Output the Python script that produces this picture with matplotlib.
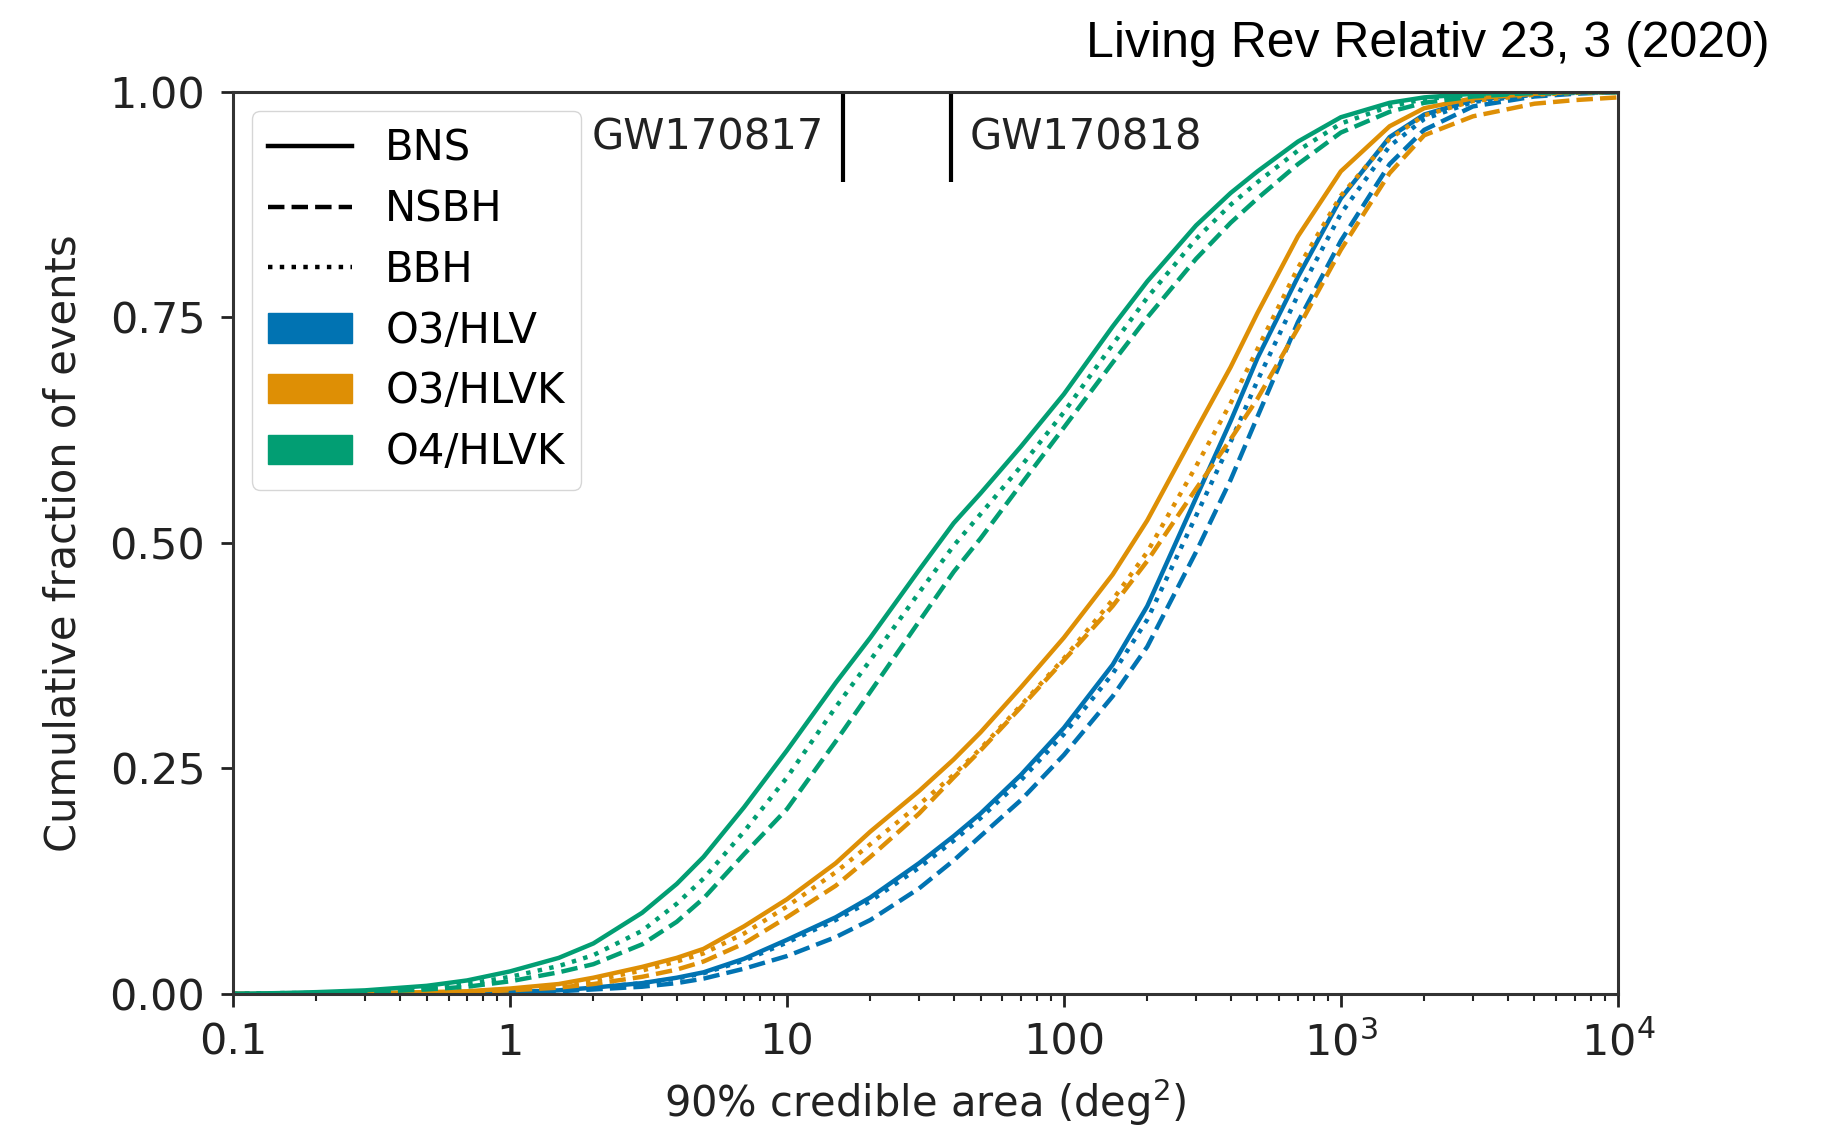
import matplotlib.pyplot as plt
from matplotlib.lines import Line2D
from matplotlib.patches import Patch

# 90% credible area grid (deg^2)
area = [0.1, 0.15, 0.2, 0.3, 0.5, 0.7, 1, 1.5, 2, 3, 4, 5, 7, 10, 15, 20, 30, 40, 50, 70,
        100, 150, 200, 300, 400, 500, 700, 1000, 1500, 2000, 3000, 5000, 7000, 10000]

# cumulative fraction of events
o3_hlv_bns = [0, 0, 0, 0, 0.001, 0.001, 0.002, 0.004, 0.007, 0.012, 0.018, 0.024, 0.039, 0.06, 0.085, 0.107, 0.145, 0.175, 0.2, 0.243,
              0.295, 0.365, 0.43, 0.55, 0.635, 0.705, 0.795, 0.882, 0.95, 0.975, 0.991, 0.998, 1.0, 1.0]
o3_hlv_nsbh = [0, 0, 0, 0, 0, 0.001, 0.001, 0.003, 0.005, 0.008, 0.012, 0.017, 0.028, 0.042, 0.063, 0.082, 0.117, 0.148, 0.175, 0.215,
               0.265, 0.33, 0.385, 0.49, 0.57, 0.64, 0.745, 0.835, 0.92, 0.958, 0.984, 0.995, 0.998, 1.0]
o3_hlv_bbh = [0, 0, 0, 0, 0.001, 0.001, 0.002, 0.004, 0.007, 0.012, 0.017, 0.023, 0.037, 0.057, 0.082, 0.103, 0.14, 0.17, 0.195, 0.237,
              0.288, 0.355, 0.415, 0.53, 0.612, 0.68, 0.775, 0.865, 0.94, 0.97, 0.989, 0.997, 0.999, 1.0]

o3_hlvk_bns = [0, 0, 0, 0.001, 0.002, 0.003, 0.006, 0.011, 0.018, 0.03, 0.04, 0.05, 0.075, 0.105, 0.145, 0.18, 0.225, 0.26, 0.29, 0.34,
               0.395, 0.465, 0.525, 0.625, 0.695, 0.755, 0.84, 0.912, 0.962, 0.982, 0.993, 0.998, 1.0, 1.0]
o3_hlvk_nsbh = [0, 0, 0, 0, 0.001, 0.002, 0.004, 0.007, 0.011, 0.019, 0.027, 0.036, 0.056, 0.085, 0.12, 0.152, 0.2, 0.24, 0.27, 0.318,
                0.37, 0.43, 0.48, 0.56, 0.615, 0.66, 0.738, 0.825, 0.91, 0.952, 0.973, 0.987, 0.991, 0.994]
o3_hlvk_bbh = [0, 0, 0, 0.001, 0.002, 0.003, 0.005, 0.009, 0.015, 0.026, 0.036, 0.045, 0.067, 0.097, 0.135, 0.166, 0.21, 0.243, 0.272, 0.32,
               0.372, 0.437, 0.49, 0.585, 0.655, 0.715, 0.805, 0.885, 0.948, 0.974, 0.99, 0.997, 0.999, 1.0]

o4_hlvk_bns = [0, 0.001, 0.002, 0.004, 0.009, 0.015, 0.025, 0.04, 0.056, 0.09, 0.122, 0.152, 0.207, 0.27, 0.345, 0.395, 0.47, 0.522, 0.555, 0.607,
               0.665, 0.74, 0.79, 0.852, 0.888, 0.912, 0.945, 0.972, 0.988, 0.994, 0.998, 1.0, 1.0, 1.0]
o4_hlvk_nsbh = [0, 0, 0.001, 0.002, 0.005, 0.008, 0.014, 0.024, 0.033, 0.055, 0.08, 0.106, 0.155, 0.205, 0.28, 0.335, 0.413, 0.468, 0.505, 0.565,
                0.628, 0.70, 0.75, 0.815, 0.855, 0.882, 0.92, 0.955, 0.978, 0.988, 0.995, 0.999, 1.0, 1.0]
o4_hlvk_bbh = [0, 0.001, 0.001, 0.003, 0.007, 0.011, 0.019, 0.031, 0.043, 0.07, 0.1, 0.128, 0.18, 0.24, 0.318, 0.37, 0.445, 0.497, 0.532, 0.585,
               0.645, 0.72, 0.772, 0.837, 0.875, 0.9, 0.935, 0.965, 0.984, 0.992, 0.997, 0.999, 1.0, 1.0]

run_names = ['O3/HLV', 'O3/HLVK', 'O4/HLVK']
run_colors = ['#0173b2', '#de8f05', '#029e73']
pop_names = ['BNS', 'NSBH', 'BBH']
pop_styles = ['-', '--', ':']
curves = [[o3_hlv_bns, o3_hlv_nsbh, o3_hlv_bbh],
          [o3_hlvk_bns, o3_hlvk_nsbh, o3_hlvk_bbh],
          [o4_hlvk_bns, o4_hlvk_nsbh, o4_hlvk_bbh]]

events = ['GW170817', 'GW170818']
event_area = [16, 39]

plt.rcParams['font.family'] = 'DejaVu Sans'
plt.rcParams['font.size'] = 30

fig = plt.figure(figsize=(18.28, 11.3), dpi=100)
ax = fig.add_axes([0.1275, 0.1204, 0.7575, 0.7982])

for run, color in zip(curves, run_colors):
    for y, ls in zip(run, pop_styles):
        ax.plot(area, y, color=color, linestyle=ls, linewidth=3.2)

ax.vlines(event_area, 0.9, 1.0, color='black', linewidth=3)
ax.annotate(events[0], (event_area[0], 0.95), xytext=(-14, 0), textcoords='offset points',
            ha='right', va='center', color='#222222')
ax.annotate(events[1], (event_area[1], 0.95), xytext=(14, 0), textcoords='offset points',
            ha='left', va='center', color='#222222')

ax.set_xscale('log')
ax.set_xlim(0.1, 1e4)
ax.set_ylim(0, 1)
ax.set_xticks([0.1, 1, 10, 100, 1000, 10000])
ax.set_xticklabels(['0.1', '1', '10', '100', '$10^3$', '$10^4$'])
ax.set_yticks([0, 0.25, 0.5, 0.75, 1.0])
ax.set_yticklabels(['0.00', '0.25', '0.50', '0.75', '1.00'])
ax.tick_params(which='major', length=9, width=2, pad=11, colors='#222222', labelsize=31)
ax.tick_params(which='minor', length=5, width=1.5, colors='#222222')
ax.tick_params(axis='y', which='minor', left=False)
for s in ax.spines.values():
    s.set_linewidth(2.2)
    s.set_color('#333333')

ax.set_xlabel('90% credible area (deg$^2$)', color='#222222', labelpad=9)
ax.set_ylabel('Cumulative fraction of events', color='#222222', labelpad=18)

handles = [Line2D([], [], color='black', linestyle=ls, linewidth=3.2) for ls in pop_styles]
handles += [Patch(color=c) for c in run_colors]
ax.legend(handles, pop_names + run_names, loc='upper left', borderaxespad=0.45,
          handlelength=2.0, labelspacing=0.45)

fig.text(0.968, 0.961, 'Living Rev Relativ 23, 3 (2020)', family='Liberation Sans',
         fontsize=36, ha='right', va='center')

fig.savefig('out.png', dpi=100)
